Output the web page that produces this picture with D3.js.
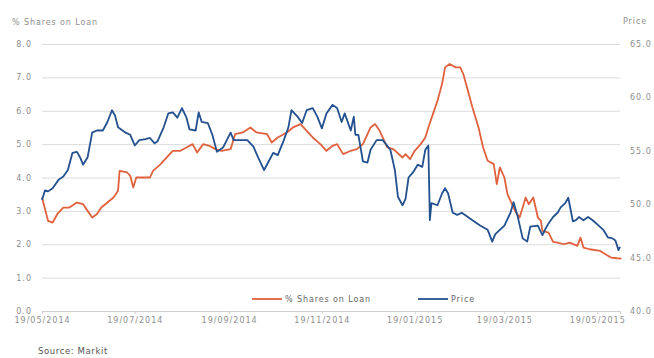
<!DOCTYPE html>
<html><head><meta charset="utf-8">
<script src="https://cdn.jsdelivr.net/npm/d3@7"></script>
<style>
html,body{margin:0;padding:0;background:#fff;}
svg{display:block;}
text{font-family:"DejaVu Sans",sans-serif;}
</style></head>
<body><svg id="c" width="654" height="358"></svg>
<script>
const loanDates = ["2014-05-19","2014-05-23","2014-05-26","2014-05-29","2014-06-02","2014-06-06","2014-06-11","2014-06-15","2014-06-18","2014-06-21","2014-06-24","2014-06-27","2014-07-01","2014-07-05","2014-07-08","2014-07-09","2014-07-14","2014-07-16","2014-07-18","2014-07-20","2014-07-24","2014-07-29","2014-07-31","2014-08-05","2014-08-09","2014-08-13","2014-08-18","2014-08-22","2014-08-26","2014-08-29","2014-09-02","2014-09-06","2014-09-10","2014-09-14","2014-09-20","2014-09-23","2014-09-28","2014-10-03","2014-10-07","2014-10-14","2014-10-17","2014-10-21","2014-10-27","2014-10-31","2014-11-05","2014-11-09","2014-11-13","2014-11-18","2014-11-22","2014-11-26","2014-11-29","2014-12-03","2014-12-08","2014-12-12","2014-12-16","2014-12-21","2014-12-24","2014-12-27","2015-01-01","2015-01-05","2015-01-11","2015-01-13","2015-01-16","2015-01-19","2015-01-23","2015-01-26","2015-01-28","2015-01-31","2015-02-03","2015-02-06","2015-02-08","2015-02-11","2015-02-15","2015-02-18","2015-02-20","2015-02-23","2015-02-26","2015-03-02","2015-03-05","2015-03-08","2015-03-12","2015-03-14","2015-03-16","2015-03-19","2015-03-21","2015-03-24","2015-03-26","2015-03-29","2015-04-02","2015-04-04","2015-04-07","2015-04-10","2015-04-12","2015-04-13","2015-04-17","2015-04-20","2015-04-23","2015-04-27","2015-05-01","2015-05-06","2015-05-08","2015-05-10","2015-05-14","2015-05-21","2015-05-28","2015-06-01","2015-06-04"];
const loanValues = [3.4,2.7,2.65,2.9,3.1,3.1,3.25,3.2,3.0,2.8,2.9,3.1,3.25,3.4,3.6,4.2,4.15,4.05,3.7,4.0,4.0,4.0,4.2,4.4,4.6,4.8,4.8,4.9,5.0,4.75,5.0,4.95,4.85,4.8,4.85,5.3,5.35,5.5,5.35,5.3,5.05,5.2,5.35,5.5,5.6,5.4,5.2,5.0,4.8,4.95,5.0,4.7,4.8,4.85,5.0,5.5,5.6,5.4,4.9,4.85,4.6,4.7,4.55,4.8,5.0,5.2,5.5,5.9,6.3,6.8,7.3,7.4,7.3,7.3,7.1,6.6,6.1,5.5,4.9,4.5,4.4,3.8,4.3,4.0,3.5,3.2,3.0,2.8,3.4,3.2,3.4,2.8,2.7,2.4,2.35,2.07,2.05,2.0,2.05,1.95,2.2,1.9,1.85,1.8,1.6,1.58,1.57];

const priceDates = ["2014-05-19","2014-05-21","2014-05-23","2014-05-26","2014-05-30","2014-06-02","2014-06-04","2014-06-05","2014-06-08","2014-06-11","2014-06-13","2014-06-15","2014-06-18","2014-06-21","2014-06-24","2014-06-28","2014-07-01","2014-07-04","2014-07-06","2014-07-08","2014-07-13","2014-07-16","2014-07-19","2014-07-22","2014-07-26","2014-07-29","2014-08-01","2014-08-03","2014-08-07","2014-08-10","2014-08-13","2014-08-16","2014-08-19","2014-08-22","2014-08-24","2014-08-28","2014-08-30","2014-09-01","2014-09-05","2014-09-08","2014-09-11","2014-09-15","2014-09-20","2014-09-22","2014-09-26","2014-10-01","2014-10-05","2014-10-08","2014-10-12","2014-10-15","2014-10-18","2014-10-21","2014-10-25","2014-10-28","2014-10-30","2014-11-03","2014-11-06","2014-11-09","2014-11-13","2014-11-16","2014-11-19","2014-11-22","2014-11-26","2014-11-29","2014-12-02","2014-12-04","2014-12-08","2014-12-10","2014-12-11","2014-12-13","2014-12-16","2014-12-19","2014-12-21","2014-12-25","2014-12-29","2015-01-03","2015-01-06","2015-01-08","2015-01-11","2015-01-13","2015-01-15","2015-01-18","2015-01-21","2015-01-24","2015-01-26","2015-01-28","2015-01-29","2015-01-30","2015-02-03","2015-02-06","2015-02-08","2015-02-10","2015-02-13","2015-02-16","2015-02-19","2015-02-23","2015-02-26","2015-03-03","2015-03-08","2015-03-11","2015-03-13","2015-03-16","2015-03-19","2015-03-23","2015-03-25","2015-03-28","2015-03-31","2015-04-03","2015-04-05","2015-04-10","2015-04-13","2015-04-15","2015-04-17","2015-04-20","2015-04-23","2015-04-25","2015-04-28","2015-04-30","2015-05-03","2015-05-05","2015-05-07","2015-05-10","2015-05-13","2015-05-16","2015-05-20","2015-05-23","2015-05-26","2015-05-29","2015-05-31","2015-06-02","2015-06-03"];
const priceValues = [50.4,51.3,51.2,51.5,52.3,52.6,53.0,53.2,54.8,54.9,54.4,53.7,54.4,56.7,56.9,56.9,57.7,58.8,58.3,57.2,56.7,56.5,55.5,56.0,56.1,56.2,55.7,55.9,57.2,58.5,58.6,58.1,59.0,58.1,57.0,56.9,58.6,57.7,57.6,56.5,54.9,55.3,56.7,56.0,56.0,56.0,55.4,54.4,53.2,54.0,54.8,54.6,56.0,57.2,58.8,58.2,57.6,58.8,59.0,58.2,57.1,58.5,59.3,59.0,57.7,58.5,56.9,58.2,56.5,56.5,54.0,53.9,55.1,56.0,56.0,55.1,53.2,50.7,49.9,50.5,52.5,53.0,53.7,53.5,55.1,55.5,48.5,50.1,49.9,51.0,51.5,51.0,49.2,49.0,49.2,48.8,48.5,48.0,47.6,46.5,47.2,47.6,48.0,49.2,50.2,48.7,46.8,46.5,47.9,48.0,47.1,47.7,48.2,48.8,49.2,49.7,50.1,50.6,48.4,48.5,48.8,48.5,48.8,48.5,48.0,47.6,46.9,46.8,46.6,45.7,46.0];

const leftTicks = [0,1,2,3,4,5,6,7,8];
const rightTicks = [40,45,50,55,60,65];
const xTickDates = ["2014-05-19","2014-07-19","2014-09-19","2014-11-19","2015-01-19","2015-03-19","2015-05-19"];
const seriesNames = ["% Shares on Loan","Price"];
const leftTitle = "% Shares on Loan";
const rightTitle = "Price";
const sourceText = "Source: Markit";

const parse = d3.timeParse("%Y-%m-%d");
const fmt = d3.timeFormat("%d/%m/%Y");
const svg = d3.select("#c");
const L = 42, R = 620, T = 44, B = 311;
const RED = "#e0613d", BLUE = "#23508f";

const x = d3.scaleTime().domain([parse("2014-05-19"), parse("2015-06-03")]).range([L, R]);
const yL = d3.scaleLinear().domain([0, 8]).range([B, T]);
const yR = d3.scaleLinear().domain([40, 65]).range([B, T]);

// left axis with gridlines
const gl = svg.append("g").attr("transform", `translate(${L},0)`)
  .call(d3.axisLeft(yL).tickValues(leftTicks).tickFormat(d3.format(".1f")).tickSize(-(R - L)).tickPadding(10));
gl.select(".domain").remove();
gl.selectAll(".tick line").attr("stroke", "#dcdcdc").attr("stroke-width", 1);
gl.selectAll(".tick text").attr("fill", "#8e8e8e").style("font-size", "8px").style("letter-spacing", "1px");

// right axis labels
const gr = svg.append("g").attr("transform", `translate(${R},0)`)
  .call(d3.axisRight(yR).tickValues(rightTicks).tickFormat(d3.format(".1f")).tickSize(0).tickPadding(10));
gr.select(".domain").remove();
gr.selectAll(".tick text").attr("fill", "#8e8e8e").style("font-size", "8px").style("letter-spacing", "1px");

// x axis
const gx = svg.append("g").attr("transform", `translate(0,${B})`)
  .call(d3.axisBottom(x).tickValues(xTickDates.map(parse)).tickFormat(fmt).tickSize(3).tickPadding(3));
gx.select(".domain").attr("stroke", "#cfcfcf");
gx.selectAll(".tick line").attr("stroke", "#cfcfcf");
gx.selectAll(".tick text").attr("fill", "#8e8e8e").style("font-size", "8px").style("letter-spacing", "1px");

// lines
const loanData = loanDates.map((d, i) => ({ d: parse(d), v: loanValues[i] }));
const priceData = priceDates.map((d, i) => ({ d: parse(d), v: priceValues[i] }));

svg.append("path").datum(loanData)
  .attr("fill", "none").attr("stroke", RED).attr("stroke-width", 1.8).attr("stroke-linejoin", "round")
  .attr("d", d3.line().x(p => x(p.d)).y(p => yL(p.v)));
svg.append("path").datum(priceData)
  .attr("fill", "none").attr("stroke", BLUE).attr("stroke-width", 1.8).attr("stroke-linejoin", "round")
  .attr("d", d3.line().x(p => x(p.d)).y(p => yR(p.v)));

// axis titles
svg.append("text").attr("x", 12).attr("y", 25).attr("fill", "#8e8e8e")
  .style("font-size", "8px").style("letter-spacing", "0.9px").text(leftTitle);
svg.append("text").attr("x", 623).attr("y", 24).attr("fill", "#8e8e8e")
  .style("font-size", "8px").style("letter-spacing", "0.9px").text(rightTitle);

// legend
const leg = [{ n: seriesNames[0], c: RED, x: 252 }, { n: seriesNames[1], c: BLUE, x: 418 }];
leg.forEach(l => {
  svg.append("line").attr("x1", l.x).attr("x2", l.x + 30).attr("y1", 299).attr("y2", 299)
    .attr("stroke", l.c).attr("stroke-width", 1.8);
  svg.append("text").attr("x", l.x + 33).attr("y", 302).attr("fill", "#666")
    .style("font-size", "8px").style("letter-spacing", "0.9px").text(l.n);
});

// source
svg.append("text").attr("x", 38).attr("y", 354).attr("fill", "#555")
  .style("font-size", "8.5px").style("letter-spacing", "0.6px").text(sourceText);
</script></body></html>
